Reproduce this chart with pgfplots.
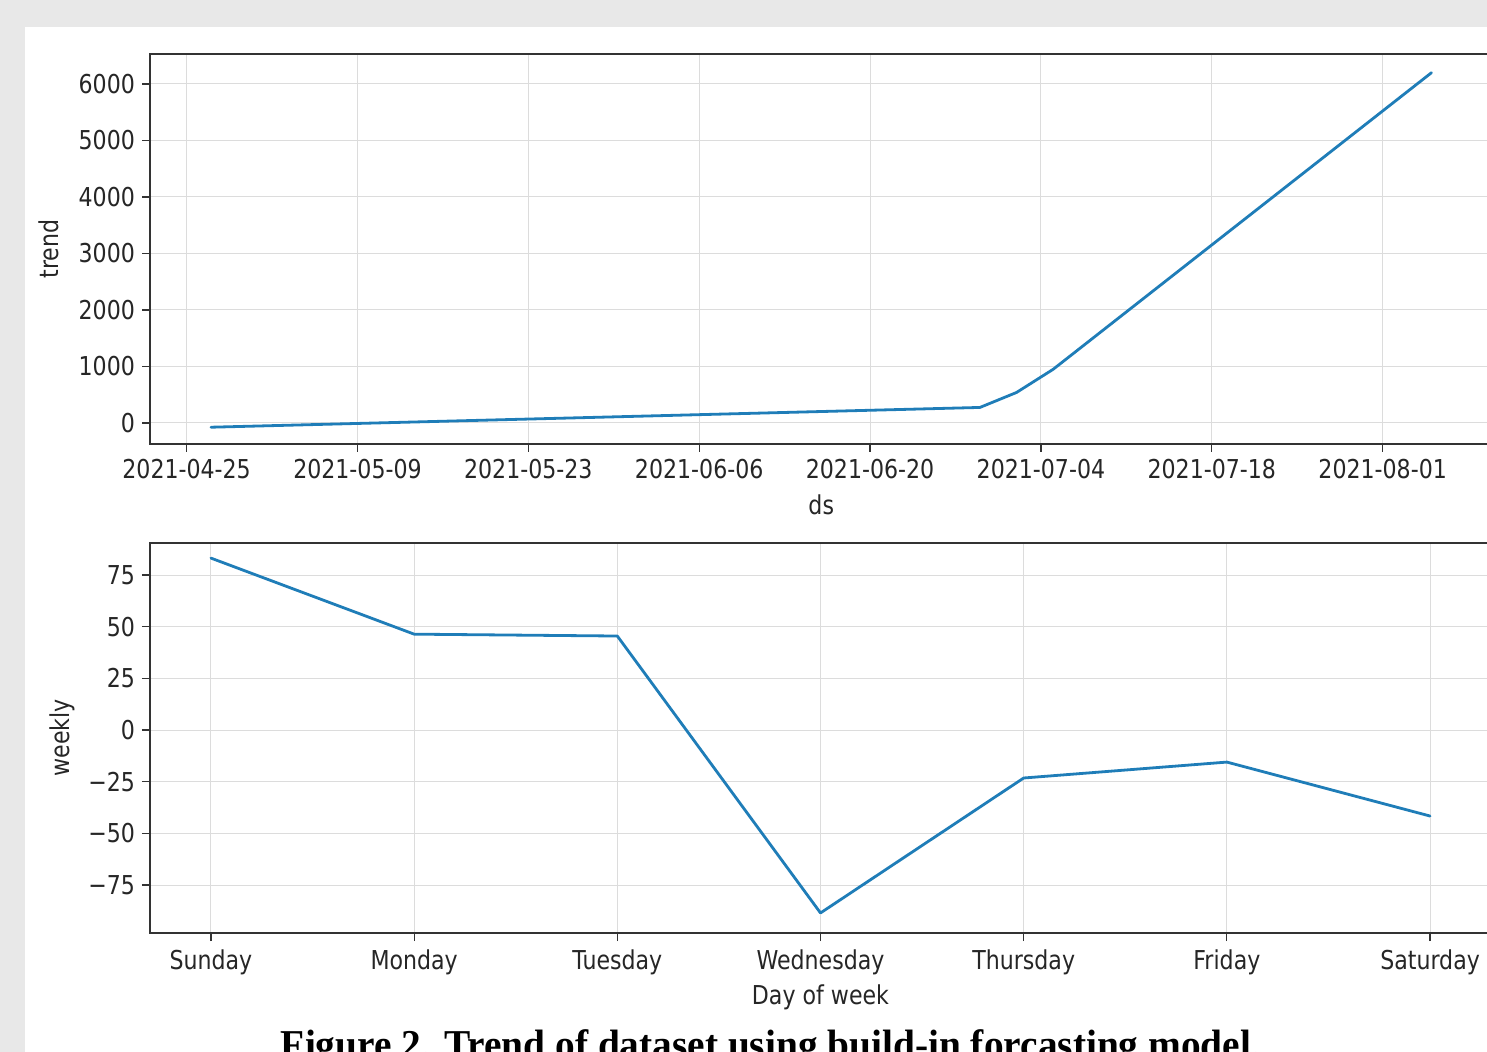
\documentclass[border=0pt]{standalone}
\usepackage{pgfplots}
\pgfplotsset{compat=1.18}
\usepackage{fontspec}
\setmainfont{DejaVu Sans}[FakeStretch=0.85]
\newfontfamily\capfont{Liberation Serif}[FakeStretch=0.96]
\definecolor{bgray}{HTML}{E8E8E8}
\definecolor{pline}{HTML}{1F7DB8}
\definecolor{gridc}{HTML}{DCDCDC}
\definecolor{axc}{HTML}{333333}
\definecolor{txt}{HTML}{262626}

\pgfplotstableread{
d v
2 -75
65 275
68 540
71 950
102 6200
}\trenddata

\pgfplotstableread{
i v
0 83.2
1 46.4
2 45.5
3 -88.5
4 -23.2
5 -15.5
6 -41.6
}\weeklydata

\begin{document}
\begin{tikzpicture}
\useasboundingbox (0,0) rectangle (743.5pt,-526pt);
\fill[bgray] (0,0) rectangle (743.5pt,-526pt);
\fill[white] (12.5pt,-13.5pt) rectangle (743.5pt,-526pt);
\clip (0,0) rectangle (743.5pt,-526pt);
\coordinate (A) at (75pt,-222pt);
\coordinate (B) at (75pt,-466.5pt);
\pgfplotsset{
  myaxis/.style={
    scale only axis,
    anchor=south west,
    height=195pt,
    axis line style={axc, line width=0.8pt},
    tick style={axc, line width=0.6pt},
    major tick length=4pt,
    tick align=outside,
    xtick pos=bottom, ytick pos=left,
    grid=major,
    major grid style={gridc, line width=0.5pt},
    tick label style={font=\fontsize{13}{15}\selectfont, text=txt},
    label style={font=\fontsize{13}{15}\selectfont, text=txt},
    /pgf/number format/assume math mode=true,
  },
  myline/.style={pline, line width=1.4pt, line join=round, line cap=round, mark=none},
}
\begin{axis}[myaxis, at={(A)}, width=671.25pt,
  xmin=-3, xmax=107, ymin=-372, ymax=6531,
  xtick={0,14,28,42,56,70,84,98},
  xticklabels={2021-04-25,2021-05-09,2021-05-23,2021-06-06,2021-06-20,2021-07-04,2021-07-18,2021-08-01},
  ytick={0,1000,2000,3000,4000,5000,6000},
  yticklabels={0,1000,2000,3000,4000,5000,6000},
  xlabel={ds}, ylabel={trend},
  ylabel style={yshift=3pt}, xlabel style={yshift=-1pt}]
\addplot[myline] table[x=d, y=v] {\trenddata};
\end{axis}
\begin{axis}[myaxis, at={(B)}, width=670.5pt,
  xmin=-0.3, xmax=6.3, ymin=-98.2, ymax=90.5,
  xtick={0,1,2,3,4,5,6},
  xticklabels={Sunday,Monday,Tuesday,Wednesday,Thursday,Friday,Saturday},
  ytick={-75,-50,-25,0,25,50,75},
  yticklabels={−75,−50,−25,0,25,50,75},
  xlabel={Day of week}, ylabel={weekly},
  xlabel style={yshift=2pt}, xticklabel style={yshift=-1pt}]
\addplot[myline] table[x=i, y=v] {\weeklydata};
\end{axis}
\node[anchor=base, inner sep=0pt, text=black] at (385.5pt,-529pt) {\capfont\bfseries\fontsize{20.5}{22}\selectfont Figure 2. Trend of dataset using build-in forcasting model.};
\end{tikzpicture}
\end{document}
